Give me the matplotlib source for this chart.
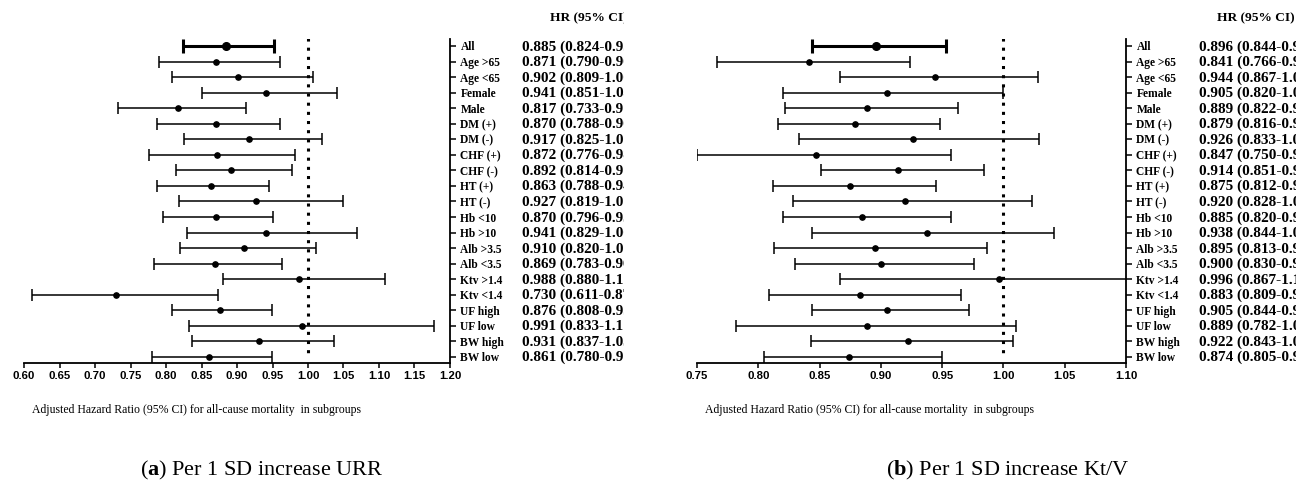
import numpy as np
import matplotlib
matplotlib.use("Agg")
import matplotlib.pyplot as plt
from matplotlib import transforms

plt.rcParams["mathtext.fontset"] = "custom"
plt.rcParams["mathtext.rm"] = "Liberation Serif"
plt.rcParams["mathtext.bf"] = "Liberation Serif:bold"

# subgroup names (top to bottom)
groups = ["All", "Age >65", "Age <65", "Female", "Male", "DM (+)", "DM (-)",
          "CHF (+)", "CHF (-)", "HT (+)", "HT (-)", "Hb <10", "Hb >10",
          "Alb >3.5", "Alb <3.5", "Ktv >1.4", "Ktv <1.4", "UF high", "UF low",
          "BW high", "BW low"]

# (a) per 1 SD increase URR
hr_a = [0.885, 0.871, 0.902, 0.941, 0.817, 0.870, 0.917, 0.872, 0.892, 0.863, 0.927,
        0.870, 0.941, 0.910, 0.869, 0.988, 0.730, 0.876, 0.991, 0.931, 0.861]
lo_a = [0.824, 0.790, 0.809, 0.851, 0.733, 0.788, 0.825, 0.776, 0.814, 0.788, 0.819,
        0.796, 0.829, 0.820, 0.783, 0.880, 0.611, 0.808, 0.833, 0.837, 0.780]
hi_a = [0.952, 0.961, 1.007, 1.041, 0.912, 0.961, 1.020, 0.981, 0.977, 0.945, 1.050,
        0.951, 1.069, 1.011, 0.964, 1.108, 0.873, 0.950, 1.178, 1.036, 0.950]

# (b) per 1 SD increase Kt/V
hr_b = [0.896, 0.841, 0.944, 0.905, 0.889, 0.879, 0.926, 0.847, 0.914, 0.875, 0.920,
        0.885, 0.938, 0.895, 0.900, 0.996, 0.883, 0.905, 0.889, 0.922, 0.874]
lo_b = [0.844, 0.766, 0.867, 0.820, 0.822, 0.816, 0.833, 0.750, 0.851, 0.812, 0.828,
        0.820, 0.844, 0.813, 0.830, 0.867, 0.809, 0.844, 0.782, 0.843, 0.805]
hi_b = [0.953, 0.924, 1.028, 1.000, 0.963, 0.948, 1.029, 0.957, 0.984, 0.945, 1.023,
        0.957, 1.041, 0.987, 0.976, 1.145, 0.965, 0.972, 1.010, 1.008, 0.950]

ticks_a = np.arange(0.60, 1.2001, 0.05)
ticks_b = np.arange(0.75, 1.1001, 0.05)

xlabel = "Adjusted Hazard Ratio (95% CI) for all-cause mortality  in subgroups"
captions = [r"(${\bf a}$) Per 1 SD increase URR", r"(${\bf b}$) Per 1 SD increase Kt/V"]

W, H = 1296, 487
fig = plt.figure(figsize=(W / 100, H / 100), dpi=100)


def rect(x0, y0, x1, y1):
    return [x0 / W, 1 - y1 / H, (x1 - x0) / W, (y1 - y0) / H]


def forest(x0, x1, xlim, ticks, hr, lo, hi, val_x, head_x, lab_x, cap_x, caption, clip_x):
    ax = fig.add_axes(rect(x0, 39, x1, 363))
    n = len(groups)
    y = np.arange(n)
    ax.set_xlim(*xlim)
    ax.set_ylim(20.39, -0.45)

    ax.vlines(1.0, -0.5, n - 0.9, colors="black", linestyles=(0, (1, 2)),
              linewidth=2.2, zorder=1)

    hr = np.array(hr); lo = np.array(lo); hi = np.array(hi)
    err = [hr - lo, hi - hr]
    # overall row thicker
    ax.errorbar(hr[:1], y[:1], xerr=[err[0][:1], err[1][:1]], fmt="o", color="black",
                ms=5.5, elinewidth=2.2, capsize=5, capthick=2.2, zorder=3)
    ax.errorbar(hr[1:], y[1:], xerr=[err[0][1:], err[1][1:]], fmt="o", color="black",
                ms=3.8, elinewidth=1.1, capsize=4, capthick=1.1, zorder=3)

    for s in ["top", "left"]:
        ax.spines[s].set_visible(False)
    ax.spines["bottom"].set_linewidth(1.3)
    ax.spines["right"].set_linewidth(1.3)

    ax.set_xticks(ticks)
    ax.set_xticklabels([f"{t:.2f}" for t in ticks], fontfamily="Liberation Sans",
                       fontweight="bold", fontsize=8.2)
    ax.tick_params(axis="x", length=3.5, width=1.1, pad=2)

    ax.yaxis.tick_right()
    ax.set_yticks(y)
    ax.set_yticklabels(groups, fontfamily="Liberation Serif", fontweight="bold", fontsize=8.3)
    ax.tick_params(axis="y", length=4.5, width=1.1, pad=3)

    tr = transforms.blended_transform_factory(fig.transFigure, ax.transData)
    clip = transforms.TransformedBbox(
        transforms.Bbox([[0, 0], [clip_x / W, 1]]), fig.transFigure)
    for i in range(n):
        t = fig.text(val_x / W, y[i] + 0.05, f"{hr[i]:.3f} ({lo[i]:.3f}-{hi[i]:.3f})",
                     transform=tr, ha="left", va="center", fontfamily="Liberation Serif",
                     fontweight="bold", fontsize=11)
        t.set_clip_box(clip)
        t.set_clip_on(True)
    t = fig.text(head_x / W, 1 - 18 / H, "HR (95% CI)", ha="left", va="center",
                 fontfamily="Liberation Serif", fontweight="bold", fontsize=9.6)
    t.set_clip_box(clip)
    t.set_clip_on(True)

    fig.text(lab_x / W, 1 - 410 / H, xlabel, ha="left", va="center",
             fontfamily="Liberation Serif", fontsize=8.5)
    fig.text(cap_x / W, 1 - 470 / H, caption, ha="center", va="center",
             fontfamily="Liberation Serif", fontsize=16)
    return ax


forest(24, 450, (0.60, 1.20), ticks_a, hr_a, lo_a, hi_a,
       522, 550, 32, 262, captions[0], 624)
forest(697, 1126, (0.75, 1.10), ticks_b, hr_b, lo_b, hi_b,
       1199, 1217, 705, 1008, captions[1], W)

fig.savefig("out.png", dpi=100)
